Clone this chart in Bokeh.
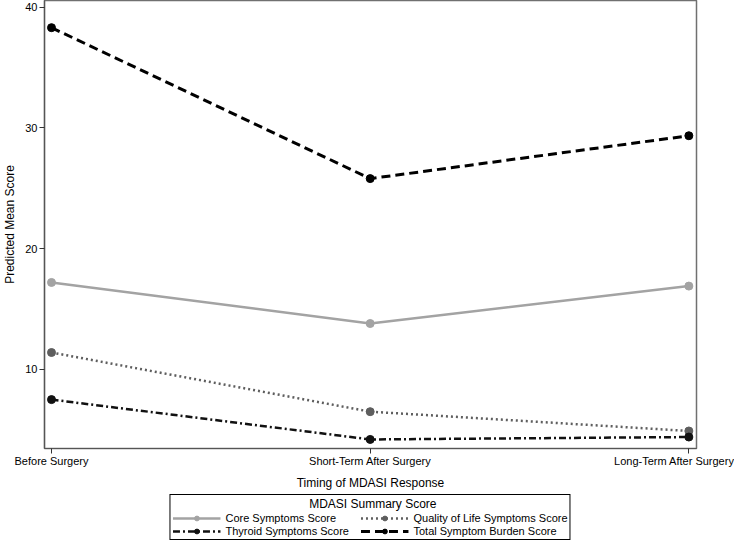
from bokeh.plotting import figure
from bokeh.models import Legend, LegendItem, FixedTicker, Range1d
from bokeh.layouts import column
from bokeh.embed import file_html
from bokeh.resources import INLINE

categories = ["Before Surgery", "Short-Term After Surgery", "Long-Term After Surgery"]
core = [17.2, 13.8, 16.9]
qol = [11.4, 6.5, 4.9]
thyroid = [7.5, 4.2, 4.4]
total = [38.3, 25.8, 29.35]
y_ticks = [10, 20, 30, 40]

FONT = "Liberation Sans"
xs = list(range(len(categories)))

p = figure(width=734, height=492, output_backend="svg", toolbar_location=None,
           x_range=Range1d(-0.022, 2.024), y_range=Range1d(3.45, 40.55),
           min_border_left=30, min_border_right=38, min_border_top=0,
           min_border_bottom=30)
p.background_fill_color = "white"
p.border_fill_color = "white"
p.outline_line_color = "#707070"
p.outline_line_width = 1.5
p.xgrid.visible = False
p.ygrid.visible = False

series = [
    ("Core Symptoms Score", core, "#a3a3a3", "solid", 2.5),
    ("Quality of Life Symptoms Score", qol, "#5e5e5e", "2 3", 2.5),
    ("Thyroid Symptoms Score", thyroid, "#111111", "7 3 2 3", 2.5),
    ("Total Symptom Burden Score", total, "#000000", "9 5", 3),
]
for name, ys, col, dash, lw in series:
    p.line(xs, ys, line_color=col, line_width=lw, line_dash=dash)
    p.scatter(xs, ys, size=8, fill_color=col, line_color=col)

for ax in (p.xaxis[0], p.yaxis[0]):
    ax.axis_line_color = "#555555"
    ax.axis_line_width = 1.2
    ax.major_tick_line_color = "#333333"
    ax.major_tick_in = 0
    ax.major_tick_out = 5
    ax.minor_tick_line_color = None
    ax.major_label_text_font = FONT
    ax.major_label_text_font_size = "11px"
    ax.major_label_text_color = "#000000"
    ax.axis_label_text_font = FONT
    ax.axis_label_text_font_size = "12px"
    ax.axis_label_text_font_style = "normal"
    ax.axis_label_text_color = "#000000"

p.xaxis.ticker = FixedTicker(ticks=xs)
p.xaxis.major_label_overrides = {i: c for i, c in enumerate(categories)}
p.xaxis.axis_label = "Timing of MDASI Response"
p.xaxis.major_label_standoff = 1
p.xaxis.axis_label_standoff = 6
p.yaxis.ticker = FixedTicker(ticks=y_ticks)
p.yaxis.axis_label = "Predicted Mean Score"
p.yaxis.major_label_standoff = 2
p.yaxis.axis_label_standoff = 5

# Legend drawn in its own strip below the chart; its sample glyphs sit
# outside the strip's visible range so only the legend shows them
lg = figure(width=734, height=50, output_backend="svg", toolbar_location=None,
            x_range=Range1d(0, 1), y_range=Range1d(0, 1),
            min_border_left=0, min_border_right=0, min_border_top=0, min_border_bottom=0)
lg.axis.visible = False
lg.grid.visible = False
lg.outline_line_color = None
lg.border_fill_color = "white"

hidden_x = [-10, -9]
hidden_y = [-10, -10]
items = {}
for name, ys, col, dash, lw in series:
    l = lg.line(hidden_x, hidden_y, line_color=col, line_width=lw, line_dash=dash)
    s = lg.scatter(hidden_x, hidden_y, size=8, fill_color=col, line_color=col)
    items[name] = LegendItem(label=name, renderers=[l, s])

# row-major order for a 2-column legend (Bokeh fills columns first)
order = ["Core Symptoms Score", "Thyroid Symptoms Score",
         "Quality of Life Symptoms Score", "Total Symptom Burden Score"]
legend = Legend(items=[items[n] for n in order], ncols=2, location="center",
                title="\u00a0" * 41 + "MDASI Summary Score")
legend.title_text_font = FONT
legend.title_text_font_size = "12px"
legend.title_text_font_style = "normal"
legend.title_text_color = "#000000"
legend.title_standoff = 1
legend.label_text_font = FONT
legend.label_text_font_size = "11px"
legend.label_text_color = "#000000"
legend.label_height = 12
legend.label_width = 134
legend.glyph_height = 12
legend.glyph_width = 48
legend.label_standoff = 5
legend.spacing = 1
legend.padding = 2
legend.margin = 0
legend.border_line_color = "#000000"
legend.border_line_alpha = 1.0
legend.border_line_width = 1
lg.add_layout(legend, "center")

layout = column(p, lg, spacing=0)
open("out.html", "w").write(file_html(layout, INLINE))
